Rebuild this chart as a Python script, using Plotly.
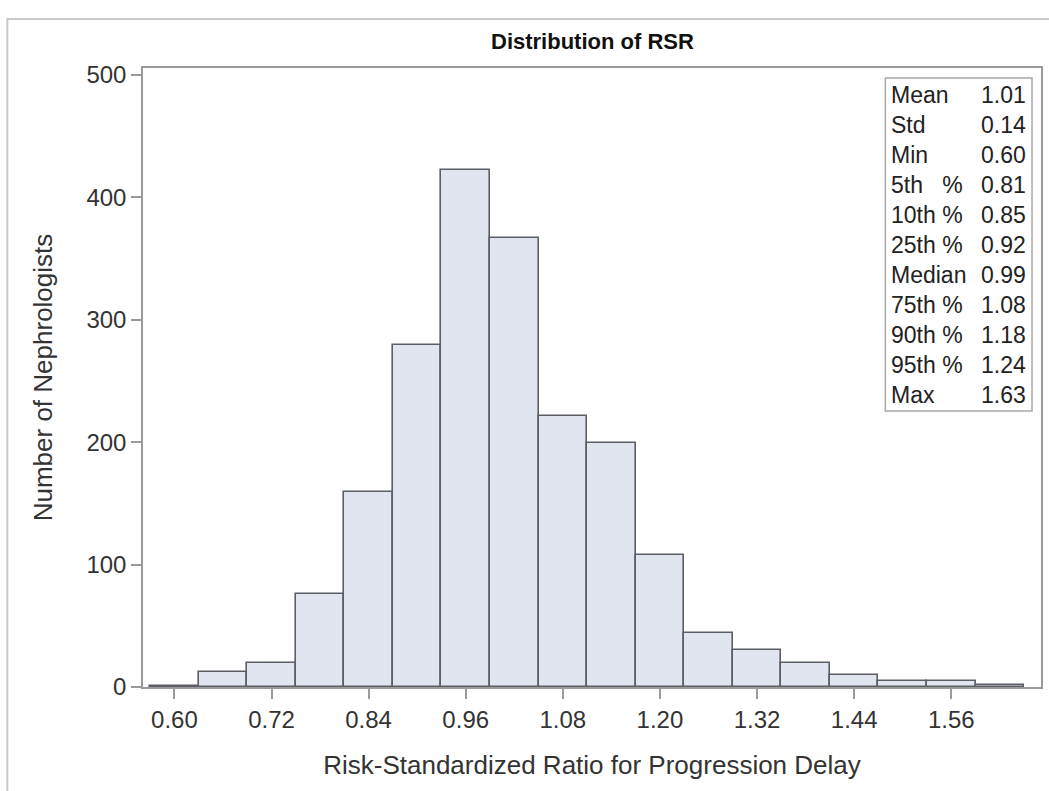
import plotly.graph_objects as go

# Histogram bins (bin centre) and counts
bin_centers = [0.60, 0.66, 0.72, 0.78, 0.84, 0.90, 0.96, 1.02, 1.08,
               1.14, 1.20, 1.26, 1.32, 1.38, 1.44, 1.50, 1.56, 1.62]
counts = [1, 12, 20, 76, 159, 279, 422, 367, 221,
          199, 108, 44, 30, 20, 10, 5, 5, 2]
bin_width = 0.06

x_ticks = [0.60, 0.72, 0.84, 0.96, 1.08, 1.20, 1.32, 1.44, 1.56]
y_ticks = [0, 100, 200, 300, 400, 500]

stat_labels = ["Mean", "Std", "Min", "5th\u00a0\u00a0\u00a0%", "10th %", "25th %",
               "Median", "75th %", "90th %", "95th %", "Max"]
stat_values = ["1.01", "0.14", "0.60", "0.81", "0.85", "0.92",
               "0.99", "1.08", "1.18", "1.24", "1.63"]

W, H = 1049, 791
L, R, T, B = 143, 6, 68, 104
plot_w = W - L - R
plot_h = H - T - B

def px_x(px):
    return (px - L) / plot_w

def px_y(py):
    return (H - B - py) / plot_h

FONT = "Liberation Sans, Arial, sans-serif"
TEXT = "#333333"
GRID = "#9a9a9a"

fig = go.Figure()
fig.add_trace(go.Bar(
    x=bin_centers,
    y=counts,
    width=bin_width,
    marker=dict(color="#e1e5ef", line=dict(color="#5c5e66", width=1.6)),
    hoverinfo="x+y",
))

fig.update_layout(
    width=W, height=H,
    margin=dict(l=L, r=R, t=T, b=B),
    paper_bgcolor="white",
    plot_bgcolor="white",
    showlegend=False,
    bargap=0,
    font=dict(family=FONT, color=TEXT),
    xaxis=dict(
        range=[0.5612, 1.6709],
        tickvals=x_ticks,
        ticktext=[f"{v:.2f}" for v in x_ticks],
        ticks="outside", ticklen=10, tickwidth=1.5, tickcolor=GRID,
        showline=True, linecolor=GRID, linewidth=1.5, mirror=True,
        showgrid=False, zeroline=False,
        tickfont=dict(size=24, color=TEXT),
        title=dict(text="Risk-Standardized Ratio for Progression Delay",
                   font=dict(size=26, color=TEXT), standoff=24),
    ),
    yaxis=dict(
        range=[0, 505.7],
        tickvals=y_ticks,
        ticks="outside", ticklen=10, tickwidth=1.5, tickcolor=GRID,
        showline=True, linecolor=GRID, linewidth=1.5, mirror=True,
        showgrid=False, zeroline=False,
        tickfont=dict(size=24, color=TEXT),
        title=dict(text="Number of Nephrologists",
                   font=dict(size=26, color=TEXT), standoff=26),
    ),
)

# Chart title
fig.add_annotation(
    xref="paper", yref="paper", x=0.5, y=px_y(41),
    xanchor="center", yanchor="middle", showarrow=False,
    text="<b>Distribution of RSR</b>",
    font=dict(family="Liberation Sans Narrow, Liberation Sans, Arial, sans-serif",
              size=22, color="#111111"),
)

# Outer graph border
fig.add_shape(
    type="rect", xref="paper", yref="paper",
    x0=px_x(7), x1=px_x(1060), y0=px_y(800), y1=px_y(19),
    line=dict(color="#c8c8c8", width=2), fillcolor="rgba(0,0,0,0)", layer="below",
)

# Summary statistics inset
box_left, box_right, box_top, box_bottom = 887, 1034, 78, 411
fig.add_shape(
    type="rect", xref="paper", yref="paper",
    x0=px_x(box_left), x1=px_x(box_right), y0=px_y(box_bottom), y1=px_y(box_top),
    line=dict(color="#a8a8a8", width=1.5), fillcolor="white",
)
row_step = 30
for i, (lab, val) in enumerate(zip(stat_labels, stat_values)):
    yc = px_y(95 + i * row_step)
    fig.add_annotation(xref="paper", yref="paper", x=px_x(891), y=yc,
                       xanchor="left", yanchor="middle", showarrow=False,
                       text=lab, font=dict(size=23, color="#222222"))
    fig.add_annotation(xref="paper", yref="paper", x=px_x(1030), y=yc,
                       xanchor="right", yanchor="middle", showarrow=False,
                       text=val, font=dict(size=23, color="#222222"))

fig.write_html("out.html")
